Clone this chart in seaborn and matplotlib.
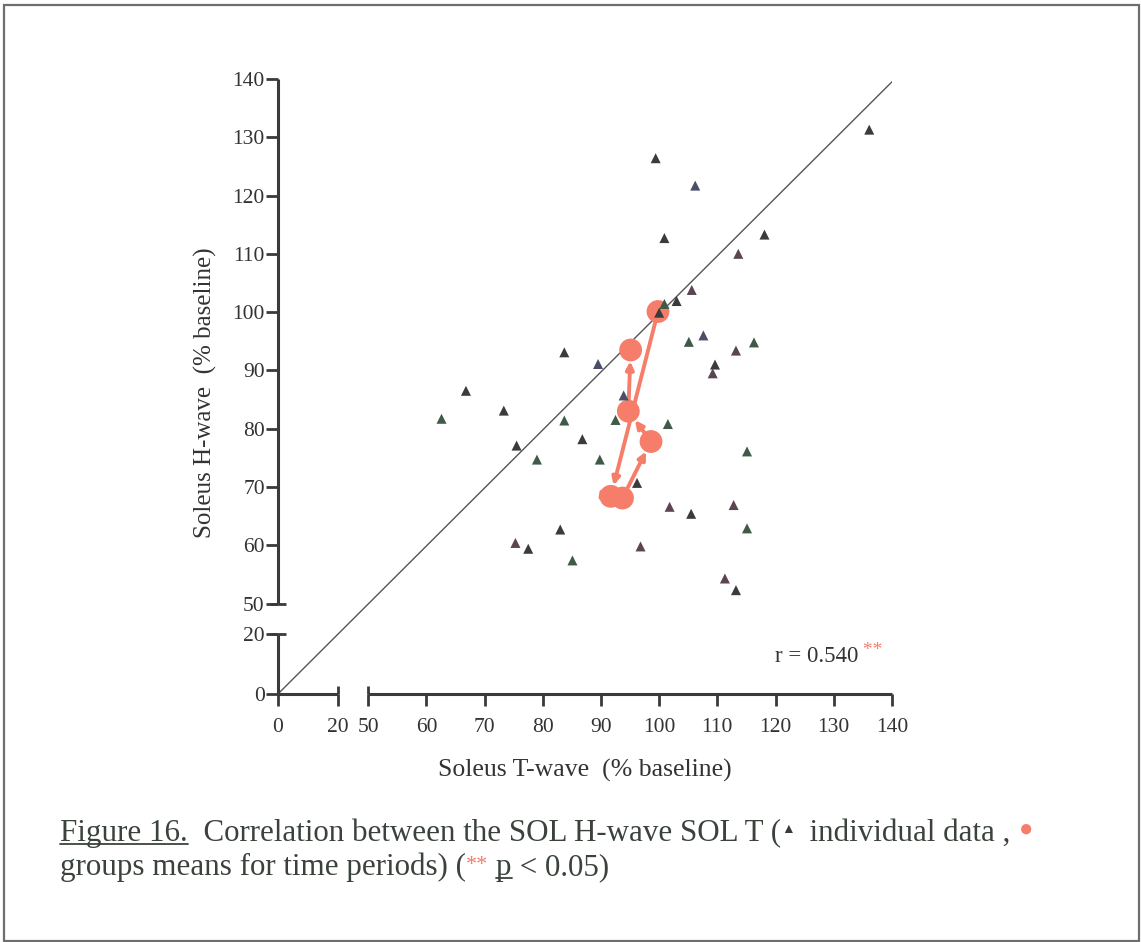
import numpy as np
import pandas as pd
import matplotlib
matplotlib.use("Agg")
import matplotlib.pyplot as plt
from matplotlib.lines import Line2D
from matplotlib.patches import Rectangle
import seaborn as sns

# 个体数据 (% baseline)
t_wave = [136.1, 99.4, 106.2, 100.9, 118.1, 113.6, 105.6, 103.0, 100.9, 100.0,
          107.6, 105.1, 116.3, 113.2, 83.7, 89.5, 109.6, 109.2, 66.8, 93.9,
          73.3, 62.6, 83.7, 92.5, 101.5, 86.8, 75.5, 115.1, 79.0, 89.8,
          96.2, 101.8, 105.5, 112.8, 115.1, 83.0, 75.3, 77.5, 96.8, 85.1,
          111.3, 113.2]
h_wave = [131.3, 126.4, 121.7, 112.7, 113.3, 110.0, 103.8, 101.9, 101.4, 99.9,
          96.0, 94.9, 94.8, 93.4, 93.1, 91.1, 91.0, 89.5, 86.5, 85.7,
          83.1, 81.7, 81.4, 81.5, 80.8, 78.2, 77.1, 76.1, 74.7, 74.7,
          70.7, 66.6, 65.4, 66.9, 62.9, 62.7, 60.4, 59.4, 59.8, 57.4,
          54.3, 52.3]
# 扫描件里三角形的色调
tint = ["k", "k", "b", "k", "k", "p", "p", "k", "g", "k",
        "b", "g", "g", "p", "k", "b", "k", "p", "k", "b",
        "k", "g", "g", "g", "g", "k", "k", "g", "g", "g",
        "k", "p", "k", "p", "g", "k", "p", "k", "p", "g",
        "p", "k"]

# 各时间段的组均值（按时间顺序）
mean_t = [99.8, 91.7, 93.7, 98.6, 94.7, 95.1]
mean_h = [100.1, 68.4, 68.1, 77.8, 83.0, 93.5]

ticks = [0, 20, 50, 60, 70, 80, 90, 100, 110, 120, 130, 140]
identity = [0, 140]
r_text = "r = 0.540"

RED = "#f57d69"
INK = "#3a3a3a"
pal = {"k": "#3b3b3b", "g": "#3f5a48", "p": "#5c4452", "b": "#4a4e6a"}

# 断轴：0-20 压缩，20-50 为空隙
LOW, GAP = 0.517, 5.17


def fwd(v):
    v = np.asarray(v, dtype=float)
    return np.where(v <= 20, v * LOW,
                    np.where(v < 50, 20 * LOW + (v - 20) * GAP / 30,
                             20 * LOW + GAP + (v - 50)))


def inv(u):
    u = np.asarray(u, dtype=float)
    return np.where(u <= 20 * LOW, u / LOW,
                    np.where(u < 20 * LOW + GAP, 20 + (u - 20 * LOW) * 30 / GAP,
                             50 + u - 20 * LOW - GAP))


sns.set_style("ticks")
plt.rcParams["font.family"] = ["Liberation Serif", "DejaVu Sans"]

fig = plt.figure(figsize=(11.41, 9.42), dpi=100)
ax = fig.add_axes([0.2436, 0.2633, 0.5381, 0.6529])
ax.set_xscale("function", functions=(fwd, inv))
ax.set_yscale("function", functions=(fwd, inv))
ax.set_xlim(0, 140)
ax.set_ylim(0, 140)

# 对角线
ax.plot(identity, [0, 139.5], color="#555555", lw=1.0, zorder=1)

# 组均值的连线和箭头
for i in range(len(mean_t) - 1):
    ax.annotate("", xy=(mean_t[i + 1], mean_h[i + 1]), xytext=(mean_t[i], mean_h[i]),
                arrowprops=dict(arrowstyle="-|>,head_length=0.45,head_width=0.22",
                                color=RED, lw=2.8, shrinkA=0, shrinkB=8),
                zorder=2)

sns.scatterplot(x=mean_t, y=mean_h, color=RED, s=270, edgecolor="none",
                ax=ax, zorder=3, legend=False)

df = pd.DataFrame({"T": t_wave, "H": h_wave, "tint": tint})
sns.scatterplot(data=df, x="T", y="H", hue="tint", palette=pal, marker="^",
                s=52, edgecolor="none", ax=ax, zorder=4, legend=False)

# 断开的坐标轴
for sp in ax.spines.values():
    sp.set_visible(False)
seg = dict(color=INK, lw=2.2, clip_on=False, solid_capstyle="butt", zorder=5)
ax.plot([0, 0], [50, 140], **seg)
ax.plot([0, 0], [0, 20], **seg)
ax.plot([0, 20], [0, 0], **seg)
ax.plot([50, 140], [0, 0], **seg)
ax.plot([20, 50], [0, 0], ls="none", marker=2, ms=6, mew=2, color=INK, clip_on=False)
ax.plot([0, 0], [20, 50], ls="none", marker=0, ms=6, mew=2, color=INK, clip_on=False)
ax.plot([0, 0], [20, 50], ls="none", marker=1, ms=6, mew=2, color=INK, clip_on=False)

ax.set_xticks(ticks)
ax.set_xticklabels([str(t) for t in ticks])
ax.set_yticks(ticks)
ax.set_yticklabels([str(t) for t in ticks])
ax.minorticks_off()
ax.tick_params(axis="both", direction="out", length=8.5, width=2.0, color=INK,
               labelsize=15.5, labelcolor="#333333")
ax.tick_params(axis="x", pad=9)
ax.tick_params(axis="y", pad=1)

ax.set_xlabel("Soleus T-wave  (% baseline)", fontsize=18.5, color="#333333")
ax.set_ylabel("Soleus H-wave  (% baseline)", fontsize=18, color="#333333")
ax.xaxis.set_label_coords(0.5, -0.106)
ax.yaxis.set_label_coords(-0.1, 0.49)

ax.grid(False)

renderer = fig.canvas.get_renderer()
W, H = fig.bbox.width, fig.bbox.height


def advance(s, size):
    a = fig.text(0, 0, s + "|", fontsize=size)
    b = fig.text(0, 0, "|", fontsize=size)
    w = a.get_window_extent(renderer).width - b.get_window_extent(renderer).width
    a.remove()
    b.remove()
    return w


def run(x_px, y_px, pieces):
    x = x_px
    for s, kw in pieces:
        kw = dict(kw)
        size = kw.pop("fontsize")
        ul = kw.pop("underline", False)
        dy = kw.pop("dy", 0)
        col = kw.get("color", INK)
        fig.text(x / W, 1 - (y_px - dy) / H, s, fontsize=size, va="baseline", **kw)
        w = advance(s, size)
        if ul:
            fig.add_artist(Line2D([x / W, (x + w) / W],
                                  [1 - (y_px + 3) / H] * 2, color=col, lw=1.3))
        x += w


# r 值
run(775, 662, [(r_text, dict(fontsize=16.5, color="#333333")),
               (" **", dict(fontsize=14, color=RED, dy=7))])

# 图注
CAP = "#3b423c"
FS = 22.3
run(60, 841, [("Figure 16.", dict(fontsize=FS, color=CAP, underline=True)),
              ("  Correlation between the SOL H-wave SOL T (", dict(fontsize=FS, color=CAP)),
              ("\u25b2", dict(fontsize=10, color=INK, dy=8)),
              ("  individual data , ", dict(fontsize=FS, color=CAP)),
              ("\u25cf", dict(fontsize=17, color=RED, dy=5))])
run(60, 875, [("groups means for time periods) (", dict(fontsize=FS, color=CAP)),
              ("**", dict(fontsize=16, color=RED, dy=5)),
              (" ", dict(fontsize=FS, color=CAP)),
              ("p", dict(fontsize=FS, color=CAP, underline=True)),
              (" < 0.05)", dict(fontsize=FS, color=CAP))])

# 外框
fig.add_artist(Rectangle((4 / W, 1 - 941 / H), 1135 / W, 936 / H, transform=fig.transFigure,
                         fill=False, edgecolor="#6e6e6e", lw=1.6))

plt.savefig("out.png", dpi=100)
